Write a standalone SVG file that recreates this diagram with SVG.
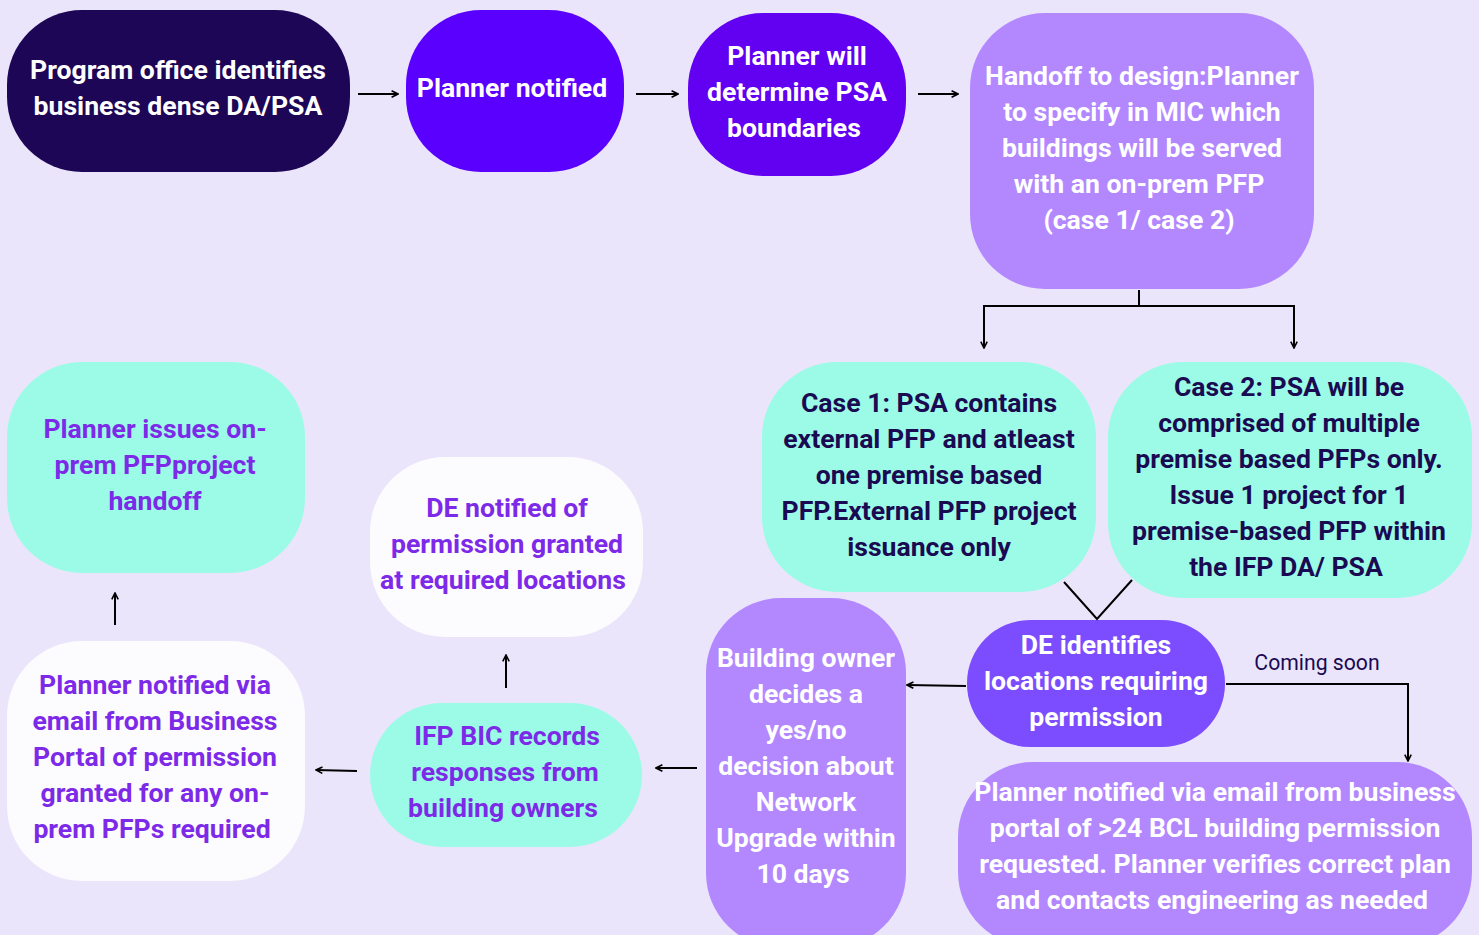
<svg xmlns="http://www.w3.org/2000/svg" width="1479" height="935" viewBox="0 0 1479 935">
<defs>
<marker id="ah" viewBox="0 0 10 10" refX="9" refY="5" markerWidth="8" markerHeight="8" markerUnits="userSpaceOnUse" orient="auto">
<path d="M1,1 L9,5 L1,9" fill="none" stroke="#000" stroke-width="2"/>
</marker>
<style>
text{font-family:Roboto,"Liberation Sans",sans-serif;font-weight:bold;font-size:26.6px;text-anchor:middle;dominant-baseline:central;transform:translateY(-1px)}
.w{fill:#ffffff}
.d{fill:#1a0a52}
.p{fill:#7d2ae8}
.c{fill:none;stroke:#000;stroke-width:2}
.lbl{font-weight:normal;font-size:21.2px;fill:#1a0a52}
</style>
</defs>
<rect width="1479" height="935" fill="#ebe5fb"/>
<g id="n1"><rect x="7" y="10" width="343" height="162" rx="75" fill="#1c0655"/><text class="w"><tspan x="178" y="70">Program office identifies</tspan><tspan x="178" y="106">business dense DA/PSA</tspan></text></g>
<g id="n2"><rect x="406" y="10" width="218" height="162" rx="75" fill="#5a00ff"/><text class="w"><tspan x="512" y="88">Planner notified</tspan></text></g>
<g id="n3"><rect x="688" y="13" width="218" height="163" rx="75" fill="#6200f2"/><text class="w"><tspan x="797" y="56">Planner will</tspan><tspan x="797" y="92">determine PSA</tspan><tspan x="794" y="128">boundaries</tspan></text></g>
<g id="n4"><rect x="970" y="13" width="344" height="276" rx="75" fill="#b388ff"/><text class="w"><tspan x="1142" y="76">Handoff to design:Planner</tspan><tspan x="1142" y="112">to specify in MIC which</tspan><tspan x="1142" y="148">buildings will be served</tspan><tspan x="1139" y="184">with an on-prem PFP</tspan><tspan x="1139" y="220">(case 1/ case 2)</tspan></text></g>
<g id="n5"><rect x="762" y="362" width="334" height="230" rx="75" fill="#9cfbe6"/><text class="d"><tspan x="929" y="403">Case 1: PSA contains</tspan><tspan x="929" y="439">external PFP and atleast</tspan><tspan x="929" y="475">one premise based</tspan><tspan x="929" y="511">PFP.External PFP project</tspan><tspan x="929" y="547">issuance only</tspan></text></g>
<g id="n6"><rect x="1108" y="362" width="364" height="236" rx="75" fill="#9cfbe6"/><text class="d"><tspan x="1289" y="387">Case 2: PSA will be</tspan><tspan x="1289" y="423">comprised of multiple</tspan><tspan x="1289" y="459">premise based PFPs only.</tspan><tspan x="1289" y="495">Issue 1 project for 1</tspan><tspan x="1289" y="531">premise-based PFP within</tspan><tspan x="1286" y="567">the IFP DA/ PSA</tspan></text></g>
<g id="n7"><rect x="967" y="620" width="258" height="127" rx="63" fill="#7c4dff"/><text class="w"><tspan x="1096" y="645">DE identifies</tspan><tspan x="1096" y="681">locations requiring</tspan><tspan x="1096" y="717">permission</tspan></text></g>
<g id="n8"><rect x="958" y="762" width="514" height="185" rx="75" fill="#b388ff"/><text class="w"><tspan x="1215" y="792">Planner notified via email from business</tspan><tspan x="1215" y="828">portal of &gt;24 BCL building permission</tspan><tspan x="1215" y="864">requested. Planner verifies correct plan</tspan><tspan x="1212" y="900">and contacts engineering as needed</tspan></text></g>
<g id="n9"><rect x="706" y="598" width="200" height="350" rx="75" fill="#b388ff"/><text class="w"><tspan x="806" y="658">Building owner</tspan><tspan x="806" y="694">decides a</tspan><tspan x="806" y="730">yes/no</tspan><tspan x="806" y="766">decision about</tspan><tspan x="806" y="802">Network</tspan><tspan x="806" y="838">Upgrade within</tspan><tspan x="803" y="874">10 days</tspan></text></g>
<g id="n10"><rect x="370" y="703" width="272" height="144" rx="72" fill="#9cfbe6"/><text class="p"><tspan x="507" y="736">IFP BIC records</tspan><tspan x="505" y="772">responses from</tspan><tspan x="503" y="808">building owners</tspan></text></g>
<g id="n11"><rect x="370" y="457" width="273" height="180" rx="75" fill="#fcfbfe"/><text class="p"><tspan x="507" y="508">DE notified of</tspan><tspan x="507" y="544">permission granted</tspan><tspan x="503" y="580">at required locations</tspan></text></g>
<g id="n12"><rect x="7" y="641" width="298" height="240" rx="75" fill="#fcfbfe"/><text class="p"><tspan x="155" y="685">Planner notified via</tspan><tspan x="155" y="721">email from Business</tspan><tspan x="155" y="757">Portal of permission</tspan><tspan x="155" y="793">granted for any on-</tspan><tspan x="152" y="829">prem PFPs required</tspan></text></g>
<g id="n13"><rect x="7" y="362" width="298" height="211" rx="75" fill="#9cfbe6"/><text class="p"><tspan x="155" y="429">Planner issues on-</tspan><tspan x="155" y="465">prem PFPproject</tspan><tspan x="155" y="501">handoff</tspan></text></g>
<g id="connectors">
<path class="c" d="M358,94 H398" marker-end="url(#ah)"/>
<path class="c" d="M636,94 H678" marker-end="url(#ah)"/>
<path class="c" d="M918,94 H958" marker-end="url(#ah)"/>
<path class="c" d="M1139,290 V306"/>
<path class="c" d="M1139,306 H984 V348" marker-end="url(#ah)"/>
<path class="c" d="M1139,306 H1294 V348" marker-end="url(#ah)"/>
<path class="c" d="M1064,582 L1097,619 L1132,580"/>
<path class="c" d="M966,686 L907,685" marker-end="url(#ah)"/>
<path class="c" d="M1226,684 H1408 V761" marker-end="url(#ah)"/>
<path class="c" d="M697,768 H656" marker-end="url(#ah)"/>
<path class="c" d="M357,771 L316,770" marker-end="url(#ah)"/>
<path class="c" d="M506,688 V655" marker-end="url(#ah)"/>
<path class="c" d="M115,625 V593" marker-end="url(#ah)"/>
<text class="lbl" x="1317" y="663">Coming soon</text>
</g>
</svg>
